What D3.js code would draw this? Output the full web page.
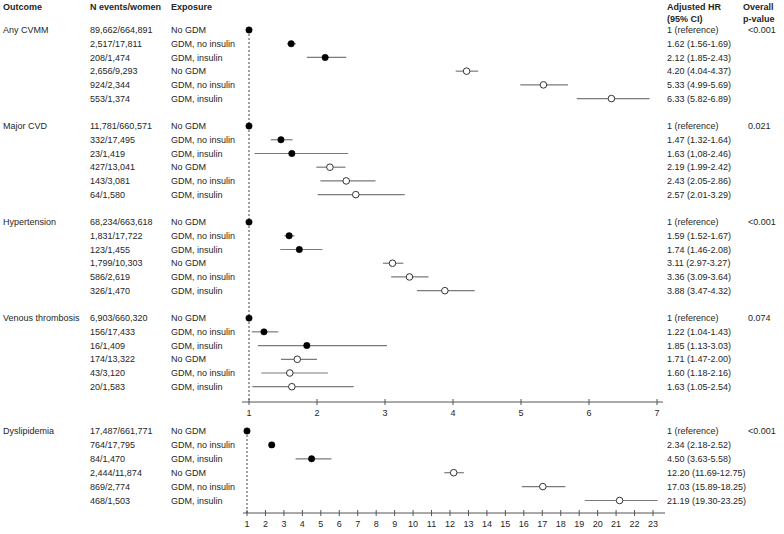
<!DOCTYPE html>
<html>
<head>
<meta charset="utf-8">
<script src="https://cdn.jsdelivr.net/npm/d3@7"></script>
<style>
  html, body { margin: 0; padding: 0; background: #fff; }
  svg { display: block; font-family: "Liberation Sans", Arial, sans-serif; }
</style>
</head>
<body>
<svg id="chart" width="784" height="534"></svg>
<script>
// ---------- data ----------
const outcomes = ["Any CVMM", "Major CVD", "Hypertension", "Venous thrombosis", "Dyslipidemia"];
const exposures = ["No GDM", "GDM, no insulin", "GDM, insulin", "No GDM", "GDM, no insulin", "GDM, insulin"];
const nEvents = [
  ["89,662/664,891", "2,517/17,811", "208/1,474", "2,656/9,293", "924/2,344", "553/1,374"],
  ["11,781/660,571", "332/17,495", "23/1,419", "427/13,041", "143/3,081", "64/1,580"],
  ["68,234/663,618", "1,831/17,722", "123/1,455", "1,799/10,303", "586/2,619", "326/1,470"],
  ["6,903/660,320", "156/17,433", "16/1,409", "174/13,322", "43/3,120", "20/1,583"],
  ["17,487/661,771", "764/17,795", "84/1,470", "2,444/11,874", "869/2,774", "468/1,503"]
];
const hr = [
  [1, 1.62, 2.12, 4.20, 5.33, 6.33],
  [1, 1.47, 1.63, 2.19, 2.43, 2.57],
  [1, 1.59, 1.74, 3.11, 3.36, 3.88],
  [1, 1.22, 1.85, 1.71, 1.60, 1.63],
  [1, 2.34, 4.50, 12.20, 17.03, 21.19]
];
const ciLow = [
  [1, 1.56, 1.85, 4.04, 4.99, 5.82],
  [1, 1.32, 1.08, 1.99, 2.05, 2.01],
  [1, 1.52, 1.46, 2.97, 3.09, 3.47],
  [1, 1.04, 1.13, 1.47, 1.18, 1.05],
  [1, 2.18, 3.63, 11.69, 15.89, 19.30]
];
const ciHigh = [
  [1, 1.69, 2.43, 4.37, 5.69, 6.89],
  [1, 1.64, 2.46, 2.42, 2.86, 3.29],
  [1, 1.67, 2.08, 3.27, 3.64, 4.32],
  [1, 1.43, 3.03, 2.00, 2.16, 2.54],
  [1, 2.52, 5.58, 12.75, 18.25, 23.25]
];
const hrLabels = [
  ["1 (reference)", "1.62 (1.56-1.69)", "2.12 (1.85-2.43)", "4.20 (4.04-4.37)", "5.33 (4.99-5.69)", "6.33 (5.82-6.89)"],
  ["1 (reference)", "1.47 (1.32-1.64)", "1.63 (1,08-2.46)", "2.19 (1.99-2.42)", "2.43 (2.05-2.86)", "2.57 (2.01-3.29)"],
  ["1 (reference)", "1.59 (1.52-1.67)", "1.74 (1.46-2.08)", "3.11 (2.97-3.27)", "3.36 (3.09-3.64)", "3.88 (3.47-4.32)"],
  ["1 (reference)", "1.22 (1.04-1.43)", "1.85 (1.13-3.03)", "1.71 (1.47-2.00)", "1.60 (1.18-2.16)", "1.63 (1.05-2.54)"],
  ["1 (reference)", "2.34 (2.18-2.52)", "4.50 (3.63-5.58)", "12.20 (11.69-12.75)", "17.03 (15.89-18.25)", "21.19 (19.30-23.25)"]
];
const pValues = ["<0.001", "0.021", "<0.001", "0.074", "<0.001"];
const topTicks = [1, 2, 3, 4, 5, 6, 7];
const bottomTicks = d3.range(1, 24);

// ---------- layout ----------
const svg = d3.select("#chart");
const textColor = "#262626";
const fontSize = 9;
const colX = { outcome: 3, n: 90, exposure: 171, hr: 667, p: 748 };

// panels: top holds outcomes 0-3, bottom holds outcome 4
const xTop = d3.scaleLinear().domain([1, 7]).range([249, 657]);
const xBot = d3.scaleLinear().domain([1, 23]).range([247, 653]);
const yTop = d3.scaleLinear().domain([0, 27]).range([30, 30 + 27 * 13.72]);
const yBot = d3.scaleLinear().domain([0, 5]).range([431, 500.5]);

// headers
const hdr = svg.append("g").attr("font-weight", "bold").attr("font-size", fontSize).attr("fill", textColor);
hdr.append("text").attr("x", colX.outcome).attr("y", 7).attr("dy", "0.35em").text("Outcome");
hdr.append("text").attr("x", colX.n).attr("y", 7).attr("dy", "0.35em").text("N events/women");
hdr.append("text").attr("x", colX.exposure).attr("y", 7).attr("dy", "0.35em").text("Exposure");
hdr.append("text").attr("x", colX.hr).attr("y", 7).attr("dy", "0.35em").text("Adjusted HR");
hdr.append("text").attr("x", colX.hr).attr("y", 19).attr("dy", "0.35em").text("(95% CI)");
hdr.append("text").attr("x", 743).attr("y", 7).attr("dy", "0.35em").text("Overall");
hdr.append("text").attr("x", 743).attr("y", 19).attr("dy", "0.35em").text("p-value");

// build row records
const rows = [];
outcomes.forEach((o, g) => {
  exposures.forEach((e, r) => {
    const bottom = g === 4;
    rows.push({
      g, r, outcome: o, exposure: e,
      n: nEvents[g][r], hr: hr[g][r], lo: ciLow[g][r], hi: ciHigh[g][r],
      label: hrLabels[g][r],
      x: bottom ? xBot : xTop,
      y: bottom ? yBot(r) : yTop(g * 7 + r)
    });
  });
});

// text columns
const txt = svg.append("g").attr("font-size", fontSize).attr("fill", textColor);
rows.forEach(d => {
  if (d.r === 0) {
    txt.append("text").attr("x", colX.outcome).attr("y", d.y).attr("dy", "0.35em").text(d.outcome);
    txt.append("text").attr("x", colX.p).attr("y", d.y).attr("dy", "0.35em").text(pValues[d.g]);
  }
  txt.append("text").attr("x", colX.n).attr("y", d.y).attr("dy", "0.35em").text(d.n);
  txt.append("text").attr("x", colX.exposure).attr("y", d.y).attr("dy", "0.35em").text(d.exposure);
  txt.append("text").attr("x", colX.hr).attr("y", d.y).attr("dy", "0.35em").text(d.label);
});

// axes
function drawAxis(scale, ticks, yAxis, x0, x1) {
  const g = svg.append("g");
  g.append("line").attr("x1", x0).attr("x2", x1).attr("y1", yAxis).attr("y2", yAxis)
    .attr("stroke", "#555").attr("stroke-width", 1);
  g.selectAll(".tk").data(ticks).join("line")
    .attr("x1", d => scale(d)).attr("x2", d => scale(d))
    .attr("y1", yAxis - 3).attr("y2", yAxis + 3)
    .attr("stroke", "#555").attr("stroke-width", 1);
  g.selectAll(".tl").data(ticks).join("text")
    .attr("x", d => scale(d)).attr("y", yAxis + 11).attr("dy", "0.35em")
    .attr("text-anchor", "middle").attr("font-size", fontSize).attr("fill", textColor)
    .text(d => d);
}
drawAxis(xTop, topTicks, 402, 242, 663);
drawAxis(xBot, bottomTicks, 513, 243, 665);

// reference lines at HR = 1
svg.append("line").attr("x1", xTop(1)).attr("x2", xTop(1)).attr("y1", yTop(0)).attr("y2", 402)
  .attr("stroke", "#444").attr("stroke-width", 1).attr("stroke-dasharray", "2,2");
svg.append("line").attr("x1", xBot(1)).attr("x2", xBot(1)).attr("y1", yBot(0)).attr("y2", 513)
  .attr("stroke", "#444").attr("stroke-width", 1).attr("stroke-dasharray", "2,2");

// CI lines
const marks = svg.append("g");
marks.selectAll(".ci").data(rows.filter(d => d.r > 0)).join("line")
  .attr("x1", d => d.x(d.lo)).attr("x2", d => d.x(d.hi))
  .attr("y1", d => d.y).attr("y2", d => d.y)
  .attr("stroke", "#7a7a7a").attr("stroke-width", 1.2);

// points
marks.selectAll(".pt").data(rows).join("circle")
  .attr("cx", d => d.x(d.hr)).attr("cy", d => d.y)
  .attr("r", d => d.r < 3 ? 3.2 : 3.3)
  .attr("fill", d => d.r < 3 ? "#000" : "#fff")
  .attr("stroke", d => d.r < 3 ? "#000" : "#333")
  .attr("stroke-width", d => d.r < 3 ? 0.5 : 1);
</script>
</body>
</html>
